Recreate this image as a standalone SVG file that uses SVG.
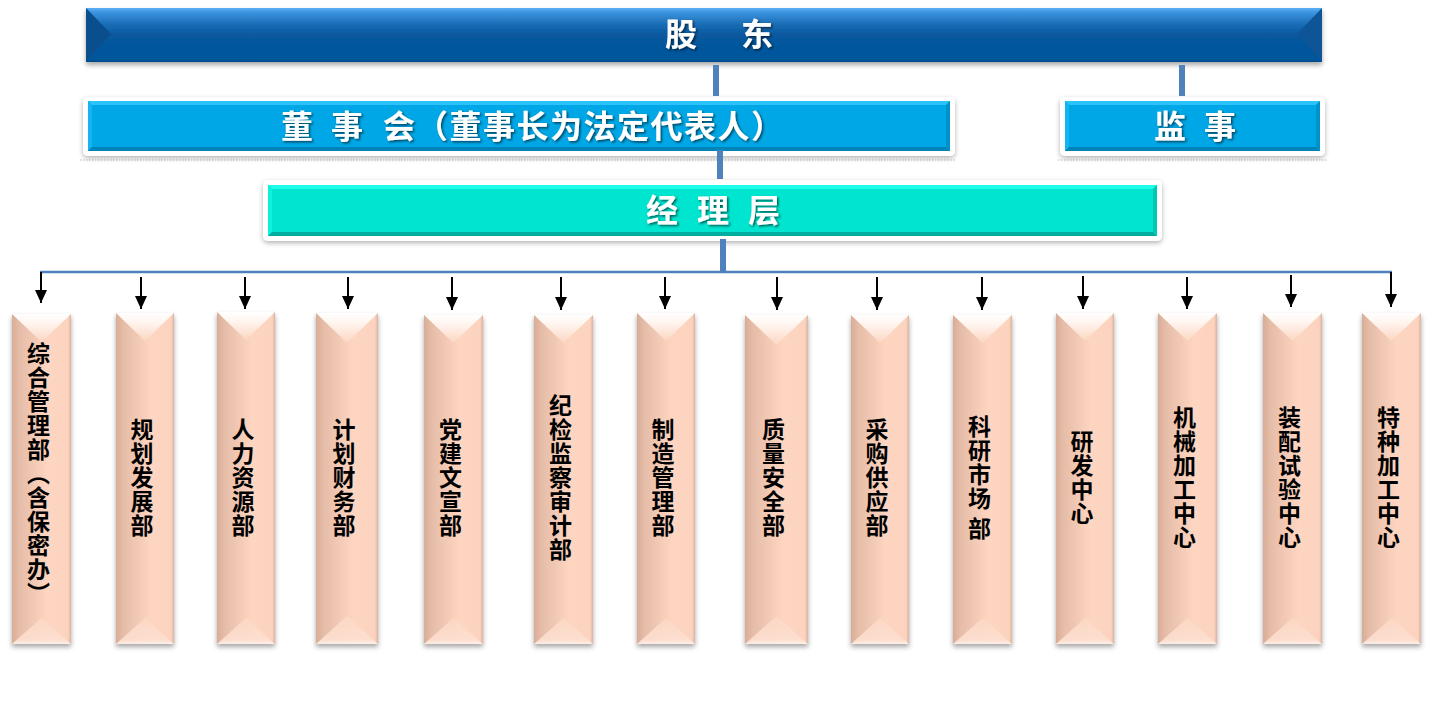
<svg xmlns="http://www.w3.org/2000/svg" width="1444" height="728" viewBox="0 0 1444 728">
<defs>
<linearGradient id="gTop" x1="0" y1="0" x2="0" y2="1">
<stop offset="0" stop-color="#5cb0f4"/>
<stop offset="0.08" stop-color="#3c94df"/>
<stop offset="0.3" stop-color="#1a6db6"/>
<stop offset="0.5" stop-color="#07589e"/>
<stop offset="0.95" stop-color="#04569b"/>
<stop offset="1" stop-color="#034a88"/>
</linearGradient>
<linearGradient id="gBox" x1="0" y1="0" x2="1" y2="0">
<stop offset="0" stop-color="#d8ad98"/>
<stop offset="0.12" stop-color="#e5bca7"/>
<stop offset="0.45" stop-color="#f6cdb8"/>
<stop offset="0.6" stop-color="#fdd5c0"/>
<stop offset="0.95" stop-color="#fcd3be"/>
<stop offset="1" stop-color="#dcb39e"/>
</linearGradient>
<linearGradient id="gVTop" x1="0" y1="0" x2="0" y2="1">
<stop offset="0" stop-color="#ffffff"/>
<stop offset="0.35" stop-color="#fff4ee"/>
<stop offset="1" stop-color="#fcd6c2"/>
</linearGradient>
<linearGradient id="gVBot" x1="0" y1="0" x2="0" y2="1">
<stop offset="0" stop-color="#fcd8c6"/>
<stop offset="0.85" stop-color="#fde0d1"/>
<stop offset="1" stop-color="#fff3ec"/>
</linearGradient>
<filter id="shBar" x="-5%" y="-30%" width="110%" height="170%">
<feDropShadow dx="0" dy="3" stdDeviation="2.5" flood-color="#000" flood-opacity="0.35"/>
</filter>
<filter id="shFrame" x="-5%" y="-30%" width="110%" height="170%">
<feDropShadow dx="0" dy="2" stdDeviation="2.5" flood-color="#000" flood-opacity="0.3"/>
</filter>
<filter id="shBox" x="-30%" y="-5%" width="160%" height="115%">
<feDropShadow dx="0" dy="3" stdDeviation="2.5" flood-color="#000" flood-opacity="0.35"/>
</filter>
<filter id="shText" x="-10%" y="-30%" width="120%" height="170%">
<feDropShadow dx="1.5" dy="1.5" stdDeviation="0.8" flood-color="#000" flood-opacity="0.6"/>
</filter>
<marker id="arr" markerUnits="userSpaceOnUse" markerWidth="14" markerHeight="14" refX="13" refY="6" orient="auto">
<path d="M0,0 L13,6 L0,12 z" fill="#000"/>
</marker>
</defs>
<style>
.wt{font-family:"Noto Sans CJK SC","Noto Sans CJK JP",sans-serif;font-weight:700;font-size:32px;fill:#fff;filter:url(#shText);}
.dt{font-family:"Noto Sans CJK SC","Noto Sans CJK JP",sans-serif;font-weight:700;font-size:23px;letter-spacing:1px;fill:#000;writing-mode:vertical-rl;text-anchor:middle;}
.frame{fill:#fff;filter:url(#shFrame);}
.skyMain{fill:#00a7e6;}
.skyTop{fill:#2cc3fb;}
.skyLeft{fill:#14b4f0;}
.skyBot{fill:#0083b8;}
.skyRight{fill:#0093c9;}
.tqMain{fill:#00e5cf;}
.tqTop{fill:#1cfdea;}
.tqLeft{fill:#0cf0dc;}
.tqBot{fill:#00ad9e;}
.tqRight{fill:#00c8b5;}
.dots{stroke:#cfcfcf;stroke-width:1.5;stroke-dasharray:1.5 1.5;fill:none;}
.box{fill:url(#gBox);filter:url(#shBox);}
.vtop{fill:url(#gVTop);}
.vbot{fill:url(#gVBot);opacity:0.9;}
.thick{stroke:#4f81bd;stroke-width:6;fill:none;}
.hline{stroke:#4f81bd;stroke-width:2.5;fill:none;}
.arrow{stroke:#000;stroke-width:2;fill:none;marker-end:url(#arr);}
</style>

<g id="node-gudong">
<rect x="86" y="8" width="1236" height="54" fill="url(#gTop)" filter="url(#shBar)"/>
<polygon points="86,8 111,34 86,62" fill="#0b4e8e"/>
<polygon points="1322,8 1297,34 1322,62" fill="#0d5597"/>
<text class="wt" x="665" y="46" xml:space="preserve" style="letter-spacing:6px">股　东</text>
</g>

<g id="node-dongshihui">
<line class="dots" x1="80" y1="160" x2="956" y2="160"/>
<rect class="frame" x="83" y="97" width="872" height="59" rx="5"/>
<rect class="skyMain" x="88" y="101" width="862" height="50"/>
<polygon class="skyTop" points="88,101 950,101 946,105 92,105"/>
<polygon class="skyLeft" points="88,101 92,105 92,147 88,151"/>
<polygon class="skyBot" points="88,151 92,147 946,147 950,151"/>
<polygon class="skyRight" points="950,101 950,151 946,147 946,105"/>
<text class="wt" y="138"><tspan x="281">董</tspan> <tspan x="331">事</tspan> <tspan x="383">会</tspan><tspan x="416" style="letter-spacing:1.5px">（董事长为法定代表人）</tspan></text>
</g>

<g id="node-jianshi">
<line class="dots" x1="1058" y1="160" x2="1328" y2="160"/>
<rect class="frame" x="1060" y="97" width="265" height="59" rx="5"/>
<rect class="skyMain" x="1065" y="101" width="255" height="50"/>
<polygon class="skyTop" points="1065,101 1320,101 1316,105 1069,105"/>
<polygon class="skyLeft" points="1065,101 1069,105 1069,147 1065,151"/>
<polygon class="skyBot" points="1065,151 1069,147 1316,147 1320,151"/>
<polygon class="skyRight" points="1320,101 1320,151 1316,147 1316,105"/>
<text class="wt" y="138"><tspan x="1154">监</tspan> <tspan x="1204">事</tspan></text>
</g>

<g id="node-jinglice">
<rect class="frame" x="263" y="180" width="899" height="61" rx="5"/>
<rect class="tqMain" x="268" y="185" width="889" height="51"/>
<polygon class="tqTop" points="268,185 1157,185 1153,189 272,189"/>
<polygon class="tqLeft" points="268,185 272,189 272,232 268,236"/>
<polygon class="tqBot" points="268,236 272,232 1153,232 1157,236"/>
<polygon class="tqRight" points="1157,185 1157,236 1153,232 1153,189"/>
<text class="wt" y="222"><tspan x="646">经</tspan> <tspan x="697">理</tspan> <tspan x="748">层</tspan></text>
</g>

<g id="dept-1">
<rect class="box" x="12" y="314" width="59" height="330"/>
<polygon class="vtop" points="12,314 71,314 41.5,342"/>
<polygon class="vbot" points="41.5,618 71,644 12,644"/>
<text class="dt" x="38.5" y="474">综合管理部（含保密办）</text>
</g>
<g id="dept-2">
<rect class="box" x="116" y="313" width="58" height="331"/>
<polygon class="vtop" points="116,313 174,313 145,341"/>
<polygon class="vbot" points="145,618 174,644 116,644"/>
<text class="dt" x="142" y="478">规划发展部</text>
</g>
<g id="dept-3">
<rect class="box" x="217" y="312" width="58" height="332"/>
<polygon class="vtop" points="217,312 275,312 246,340"/>
<polygon class="vbot" points="246,618 275,644 217,644"/>
<text class="dt" x="243" y="478">人力资源部</text>
</g>
<g id="dept-4">
<rect class="box" x="316" y="313" width="62" height="331"/>
<polygon class="vtop" points="316,313 378,313 347,343"/>
<polygon class="vbot" points="347,616 378,644 316,644"/>
<text class="dt" x="344" y="478">计划财务部</text>
</g>
<g id="dept-5">
<rect class="box" x="424" y="315" width="59" height="329"/>
<polygon class="vtop" points="424,315 483,315 453.5,343"/>
<polygon class="vbot" points="453.5,618 483,644 424,644"/>
<text class="dt" x="450.5" y="478">党建文宣部</text>
</g>
<g id="dept-6">
<rect class="box" x="534" y="315" width="59" height="329"/>
<polygon class="vtop" points="534,315 593,315 563.5,343"/>
<polygon class="vbot" points="563.5,618 593,644 534,644"/>
<text class="dt" x="560.5" y="478">纪检监察审计部</text>
</g>
<g id="dept-7">
<rect class="box" x="637" y="313" width="58" height="331"/>
<polygon class="vtop" points="637,313 695,313 666,341"/>
<polygon class="vbot" points="666,618 695,644 637,644"/>
<text class="dt" x="663" y="478">制造管理部</text>
</g>
<g id="dept-8">
<rect class="box" x="745" y="315" width="63" height="329"/>
<polygon class="vtop" points="745,315 808,315 776.5,345"/>
<polygon class="vbot" points="776.5,616 808,644 745,644"/>
<text class="dt" x="773.5" y="478">质量安全部</text>
</g>
<g id="dept-9">
<rect class="box" x="851" y="315" width="58" height="329"/>
<polygon class="vtop" points="851,315 909,315 880,343"/>
<polygon class="vbot" points="880,618 909,644 851,644"/>
<text class="dt" x="877" y="478">采购供应部</text>
</g>
<g id="dept-10">
<rect class="box" x="953" y="315" width="59" height="329"/>
<polygon class="vtop" points="953,315 1012,315 982.5,343"/>
<polygon class="vbot" points="982.5,618 1012,644 953,644"/>
<text class="dt" x="979.5" y="478" xml:space="preserve">科研市场 部</text>
</g>
<g id="dept-11">
<rect class="box" x="1056" y="313" width="58" height="331"/>
<polygon class="vtop" points="1056,313 1114,313 1085,341"/>
<polygon class="vbot" points="1085,618 1114,644 1056,644"/>
<text class="dt" x="1082" y="478">研发中心</text>
</g>
<g id="dept-12">
<rect class="box" x="1158" y="313" width="59" height="331"/>
<polygon class="vtop" points="1158,313 1217,313 1187.5,341"/>
<polygon class="vbot" points="1187.5,618 1217,644 1158,644"/>
<text class="dt" x="1184.5" y="478">机械加工中心</text>
</g>
<g id="dept-13">
<rect class="box" x="1263" y="313" width="59" height="331"/>
<polygon class="vtop" points="1263,313 1322,313 1292.5,341"/>
<polygon class="vbot" points="1292.5,618 1322,644 1263,644"/>
<text class="dt" x="1289.5" y="478">装配试验中心</text>
</g>
<g id="dept-14">
<rect class="box" x="1362" y="313" width="59" height="331"/>
<polygon class="vtop" points="1362,313 1421,313 1391.5,341"/>
<polygon class="vbot" points="1391.5,618 1421,644 1362,644"/>
<text class="dt" x="1388.5" y="478">特种加工中心</text>
</g>

<g id="connectors">
<line class="thick" x1="716" y1="65" x2="716" y2="96"/>
<line class="thick" x1="1182" y1="65" x2="1182" y2="96"/>
<line class="thick" x1="720" y1="150" x2="720" y2="179"/>
<line class="thick" x1="723" y1="239" x2="723" y2="272"/>
<line class="hline" x1="40" y1="272" x2="1392" y2="272"/>
<line class="arrow" x1="41" y1="272" x2="41" y2="303"/>
<line class="arrow" x1="141" y1="277" x2="141" y2="309"/>
<line class="arrow" x1="245" y1="277" x2="245" y2="309"/>
<line class="arrow" x1="348" y1="277" x2="348" y2="309"/>
<line class="arrow" x1="452" y1="277" x2="452" y2="310"/>
<line class="arrow" x1="561" y1="277" x2="561" y2="310"/>
<line class="arrow" x1="665" y1="277" x2="665" y2="309"/>
<line class="arrow" x1="777" y1="277" x2="777" y2="310"/>
<line class="arrow" x1="877" y1="277" x2="877" y2="310"/>
<line class="arrow" x1="982" y1="277" x2="982" y2="310"/>
<line class="arrow" x1="1083" y1="276" x2="1083" y2="309"/>
<line class="arrow" x1="1187" y1="277" x2="1187" y2="309"/>
<line class="arrow" x1="1291" y1="275" x2="1291" y2="307"/>
<line class="arrow" x1="1391" y1="272" x2="1391" y2="307"/>
</g>
</svg>
